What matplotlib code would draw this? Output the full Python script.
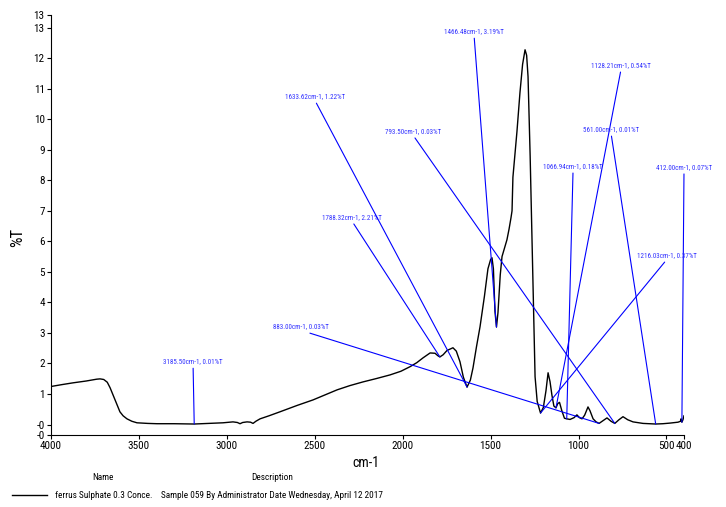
import matplotlib
matplotlib.use('Agg')
import matplotlib.pyplot as plt
from matplotlib import font_manager
from matplotlib.lines import Line2D

# the instrument software draws in a narrow sans; use one if it is installed
narrow = None
names = [f.name for f in font_manager.fontManager.ttflist]
for cand in ['Liberation Sans Narrow', 'Arial Narrow', 'Roboto Condensed', 'Open Sans Condensed']:
    if cand in names:
        narrow = cand
        break
if narrow:
    plt.rcParams['font.family'] = [narrow, 'DejaVu Sans']
    k = 1.0
else:
    plt.rcParams['font.family'] = ['Liberation Sans', 'DejaVu Sans']
    k = 0.82

# spectrum: wavenumber (cm-1) and %T
wavenumber = [4000, 3940, 3875, 3800, 3740, 3721, 3700, 3680, 3664, 3650, 3636, 3620, 3608,
              3590, 3568, 3540, 3511, 3450, 3397, 3300, 3209, 3185.5, 3100, 3022, 2965, 2940,
              2925, 2910, 2885, 2865, 2851, 2835, 2811, 2760, 2698, 2600, 2510, 2440, 2373,
              2300, 2226, 2150, 2072, 2010, 1958, 1920, 1884, 1844, 1816, 1800, 1788.32, 1770,
              1748, 1714, 1695, 1674, 1655, 1634, 1615, 1600, 1580, 1560, 1535, 1515, 1500,
              1492, 1484, 1475, 1466.48, 1458, 1445, 1435, 1420, 1407, 1395, 1384, 1378, 1373,
              1350, 1333, 1318, 1304, 1295, 1287, 1275, 1264, 1255, 1247, 1235, 1216.03, 1200,
              1185, 1173, 1162, 1151, 1140, 1128.21, 1118, 1108, 1095, 1080, 1066.94, 1048,
              1025, 1009, 995, 980, 965, 946, 935, 917, 900, 883, 860, 838, 815, 793.5, 770,
              747, 720, 690, 633, 600, 561, 520, 480, 434, 420, 417, 412, 406, 400]
transmittance = [1.24, 1.30, 1.36, 1.42, 1.48, 1.49, 1.47, 1.38, 1.20, 1.00, 0.80, 0.58, 0.41,
                 0.28, 0.18, 0.10, 0.05, 0.03, 0.02, 0.02, 0.01, 0.01, 0.03, 0.05, 0.08, 0.06,
                 0.02, 0.06, 0.08, 0.07, 0.03, 0.10, 0.18, 0.28, 0.41, 0.62, 0.80, 0.97, 1.13,
                 1.27, 1.39, 1.50, 1.62, 1.74, 1.89, 2.02, 2.18, 2.34, 2.33, 2.25, 2.21, 2.28,
                 2.42, 2.51, 2.40, 2.05, 1.55, 1.22, 1.45, 1.85, 2.55, 3.20, 4.20, 5.10, 5.40,
                 5.46, 5.10, 3.70, 3.19, 3.66, 4.90, 5.50, 5.80, 6.05, 6.40, 6.77, 7.00, 8.10,
                 9.60, 10.87, 11.80, 12.28, 12.10, 11.40, 8.80, 5.95, 3.50, 1.56, 0.75, 0.37, 0.55,
                 1.10, 1.69, 1.40, 0.95, 0.60, 0.54, 0.68, 0.72, 0.45, 0.20, 0.18, 0.16,
                 0.22, 0.31, 0.22, 0.18, 0.30, 0.57, 0.45, 0.18, 0.08, 0.03, 0.12, 0.21, 0.10, 0.03, 0.15,
                 0.25, 0.15, 0.08, 0.03, 0.02, 0.01, 0.02, 0.04, 0.07, 0.10, 0.18, 0.07, 0.15, 0.28]

# peak picks: position, %T, and where the label sits (wavenumber, %T)
peak_wn = [3185.50, 883.00, 1788.32, 1633.62, 793.50, 1466.48, 1128.21, 561.00, 1066.94, 412.00, 1216.03]
peak_t = [0.01, 0.03, 2.21, 1.22, 0.03, 3.19, 0.54, 0.01, 0.18, 0.07, 0.37]
label_wn = [3192, 2578, 2288, 2499, 1941, 1594, 758, 815, 1031, 400, 497]
label_t = [1.93, 3.08, 6.66, 10.62, 9.48, 12.75, 11.64, 9.54, 8.33, 8.30, 5.41]

xticks = [4000, 3500, 3000, 2500, 2000, 1500, 1000, 500, 400]
yticks = [-0.35, -0.02, 1, 2, 3, 4, 5, 6, 7, 8, 9, 10, 11, 12, 13, 13.42]
ytick_labels = ['-0', '-0', '1', '2', '3', '4', '5', '6', '7', '8', '9', '10', '11', '12', '13', '13']

fig = plt.figure(figsize=(7.26, 5.07), dpi=100)
ax = fig.add_axes([51/726, 1 - 435/507, 633/726, 420/507])

ax.plot(wavenumber, transmittance, color='black', lw=1.0)

for wn, t, lx, ly in zip(peak_wn, peak_t, label_wn, label_t):
    ax.annotate('%.2fcm-1, %.2f%%T' % (wn, t), xy=(wn, t), xytext=(lx, ly),
                ha='center', va='bottom', fontsize=5.0 * k, color='#3030ff',
                annotation_clip=False,
                arrowprops=dict(arrowstyle='-', color='blue', lw=0.8,
                                shrinkA=0, shrinkB=0, relpos=(0.5, 0)))

ax.set_xlim(4000, 400)
ax.set_ylim(-0.35, 13.42)
ax.set_xticks(xticks)
ax.set_xticklabels([str(x) for x in xticks])
ax.set_yticks(yticks)
ax.set_yticklabels(ytick_labels)
ax.tick_params(direction='out', length=3, width=0.8, labelsize=8 * k, pad=1.5)
ax.spines['top'].set_visible(False)
ax.spines['right'].set_visible(False)

fig.text(366/726, 1 - 463/507, 'cm-1', ha='center', va='center', fontsize=10 * k)
fig.text(18/726, 1 - 237/507, '%T', ha='center', va='center', rotation=90, fontsize=12 * k)

fig.text(103/726, 1 - 477/507, 'Name', ha='center', va='center', fontsize=6.7 * k)
fig.text(272/726, 1 - 477/507, 'Description', ha='center', va='center', fontsize=6.7 * k)
fig.add_artist(Line2D([12/726, 47/726], [1 - 495/507, 1 - 495/507], color='black', lw=1.0))
fig.text(55/726, 1 - 495/507,
         'ferrus Sulphate 0.3 Conce.    Sample 059 By Administrator Date Wednesday, April 12 2017',
         ha='left', va='center', fontsize=6.7 * k)

fig.savefig('out.png', dpi=100)
